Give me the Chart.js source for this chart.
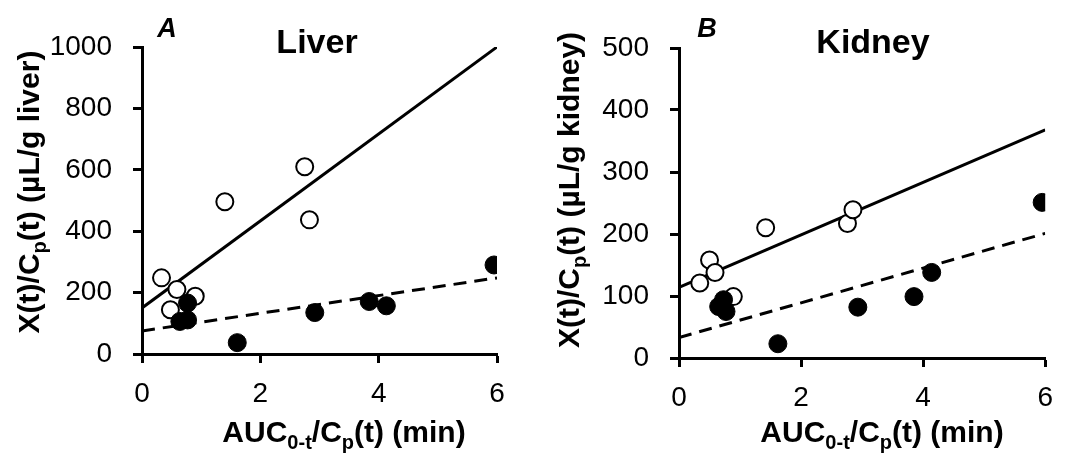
<!DOCTYPE html>
<html>
<head>
<meta charset="utf-8">
<script src="https://cdn.jsdelivr.net/npm/chart.js@4/dist/chart.umd.min.js"></script>
<style>
    body { margin: 0; background: #fff; width: 1067px; height: 456px; position: relative; overflow: hidden; }
    .panel { position: absolute; top: 0; height: 456px; }
</style>
</head>
<body>
<div class="panel" style="left:0;width:540px"><canvas id="chart-liver"></canvas></div>
<div class="panel" style="left:540px;width:527px"><canvas id="chart-kidney"></canvas></div>
<script>
// Shared x axis (AUC0-t / Cp(t), min)
const xTicks = [0, 2, 4, 6];
const fitX = [0, 6];

// Panel A - Liver
const liverOpenX = [0.33, 0.48, 0.59, 0.90, 1.40, 2.75, 2.83];
const liverOpenY = [248, 144, 210, 188, 496, 610, 437];
const liverFilledX = [0.64, 0.77, 0.77, 1.61, 2.92, 3.84, 4.13, 5.95];
const liverFilledY = [106, 111, 166, 37, 135, 171, 157, 290];
const liverSolidFit = [150, 1000];
const liverDashedFit = [75, 248];
const liverYTicks = [0, 200, 400, 600, 800, 1000];

// Panel B - Kidney
const kidneyOpenX = [0.34, 0.50, 0.59, 0.89, 1.42, 2.76, 2.85];
const kidneyOpenY = [121, 158, 138, 99, 210, 217, 239];
const kidneyFilledX = [0.65, 0.73, 0.77, 1.62, 2.93, 3.85, 4.14, 5.95];
const kidneyFilledY = [83, 94, 75, 23, 82, 99, 138, 251];
const kidneySolidFit = [114, 368];
const kidneyDashedFit = [33, 201];
const kidneyYTicks = [0, 100, 200, 300, 400, 500];

const FONT = '"Liberation Sans", Arial, sans-serif';

function pts(xs, ys) {
    return xs.map((x, i) => ({ x: x, y: ys[i] }));
}

// draws text with subscript parts, e.g. [['C', false], ['p', true]]
function drawRich(ctx, parts, size, x, y) {
    const subSize = Math.round(size * 0.66);
    let w = 0;
    parts.forEach(p => {
        ctx.font = 'bold ' + (p[1] ? subSize : size) + 'px ' + FONT;
        w += ctx.measureText(p[0]).width;
    });
    let cx = x - w / 2;
    parts.forEach(p => {
        ctx.font = 'bold ' + (p[1] ? subSize : size) + 'px ' + FONT;
        ctx.fillText(p[0], cx, y + (p[1] ? size * 0.24 : 0));
        cx += ctx.measureText(p[0]).width;
    });
}

function labelsPlugin(cfg) {
    return {
        id: 'panelLabels',
        afterDraw(chart) {
            const ctx = chart.ctx;
            ctx.save();
            ctx.fillStyle = '#000';
            ctx.textAlign = 'left';
            ctx.textBaseline = 'alphabetic';
            // x axis title
            drawRich(ctx, [['AUC', false], ['0-t', true], ['/C', false], ['p', true], ['(t) (min)', false]], 30, cfg.xTitleX, 442);
            // y axis title (rotated)
            ctx.save();
            ctx.translate(cfg.yTitleX, cfg.yTitleY);
            ctx.rotate(-Math.PI / 2);
            drawRich(ctx, [['X(t)/C', false], ['p', true], ['(t) (\u00b5L/g ' + cfg.organ + ')', false]], 30, 0, 10);
            ctx.restore();
            // panel letter and title
            ctx.textAlign = 'center';
            ctx.font = 'italic bold 27px ' + FONT;
            ctx.fillText(cfg.letter, cfg.letterX, 37);
            ctx.font = 'bold 34px ' + FONT;
            ctx.fillText(cfg.title, cfg.titleX, 53);
            ctx.restore();
        }
    };
}

function makeChart(id, d) {
    const axisCommon = {
        type: 'linear',
        grid: { display: true, drawOnChartArea: false, drawTicks: true, tickLength: 9, tickWidth: 3, tickColor: '#000' },
        border: { display: true, color: '#000', width: 3 }
    };
    return new Chart(document.getElementById(id), {
        type: 'scatter',
        data: {
            datasets: [
                {
                    data: pts(d.filledX, d.filledY),
                    pointRadius: 9, pointBackgroundColor: '#000', pointBorderColor: '#000', pointBorderWidth: 1
                },
                {
                    data: pts(d.openX, d.openY),
                    pointRadius: 8.5, pointBackgroundColor: '#fff', pointBorderColor: '#000', pointBorderWidth: 2
                },
                {
                    data: pts(fitX, d.solid),
                    showLine: true, pointRadius: 0, borderColor: '#000', borderWidth: 3
                },
                {
                    data: pts(fitX, d.dashed),
                    showLine: true, pointRadius: 0, borderColor: '#000', borderWidth: 3, borderDash: [13, 8]
                }
            ]
        },
        options: {
            responsive: true,
            maintainAspectRatio: false,
            animation: false,
            layout: { padding: d.padding },
            plugins: { legend: { display: false }, tooltip: { enabled: false } },
            scales: {
                x: Object.assign({}, axisCommon, {
                    min: 0, max: 6,
                    afterBuildTicks: s => { s.ticks = xTicks.map(v => ({ value: v })); },
                    afterFit: s => { s.height = d.xHeight; },
                    ticks: { color: '#000', font: { family: FONT, size: 28 }, padding: 14, maxRotation: 0, callback: v => String(v) }
                }),
                y: Object.assign({}, axisCommon, {
                    min: 0, max: d.yTicks[d.yTicks.length - 1],
                    afterBuildTicks: s => { s.ticks = d.yTicks.map(v => ({ value: v })); },
                    afterFit: s => { s.width = d.yWidth; },
                    ticks: { color: '#000', font: { family: FONT, size: 28 }, padding: 21, callback: v => String(v) }
                })
            }
        },
        plugins: [labelsPlugin(d.labels)]
    });
}

makeChart('chart-liver', {
    openX: liverOpenX, openY: liverOpenY, filledX: liverFilledX, filledY: liverFilledY,
    solid: liverSolidFit, dashed: liverDashedFit, yTicks: liverYTicks,
    padding: { top: 47, right: 43, left: 0, bottom: 0 }, yWidth: 142, xHeight: 102,
    labels: { organ: 'liver', letter: 'A', title: 'Liver', letterX: 167, titleX: 317, xTitleX: 344, yTitleX: 29, yTitleY: 192 }
});

makeChart('chart-kidney', {
    openX: kidneyOpenX, openY: kidneyOpenY, filledX: kidneyFilledX, filledY: kidneyFilledY,
    solid: kidneySolidFit, dashed: kidneyDashedFit, yTicks: kidneyYTicks,
    padding: { top: 48, right: 12, left: 0, bottom: 0 }, yWidth: 139, xHeight: 98,
    labels: { organ: 'kidney', letter: 'B', title: 'Kidney', letterX: 167, titleX: 333, xTitleX: 342, yTitleX: 29, yTitleY: 190 }
});
</script>
</body>
</html>
